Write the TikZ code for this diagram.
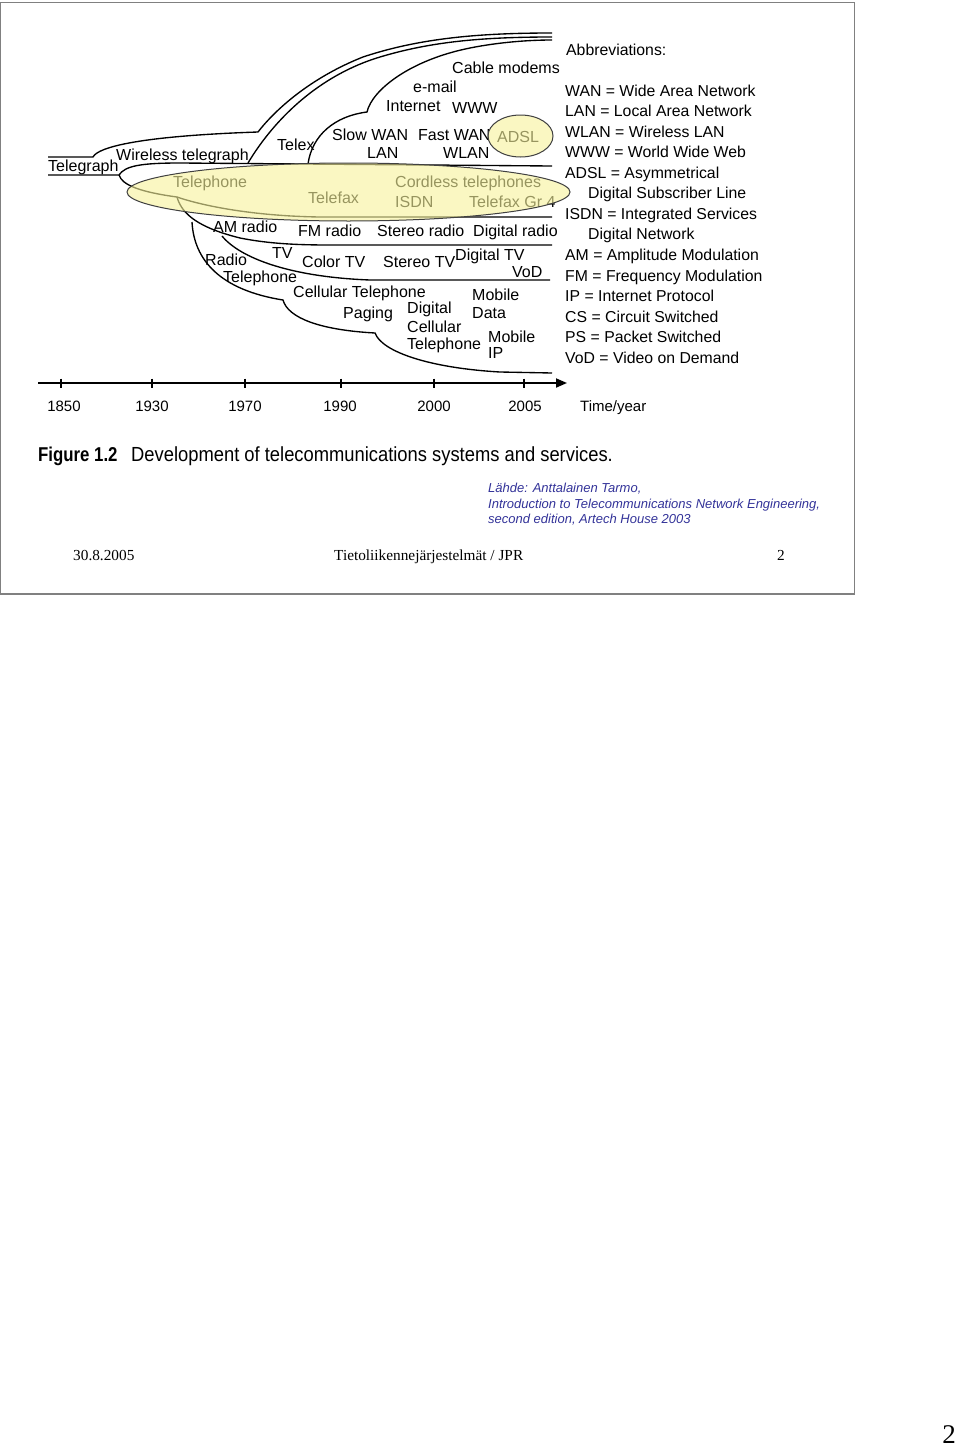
\documentclass[tikz,border=0pt]{standalone}
\usepackage{graphicx}
\usepackage{fontspec}
\setmainfont{Liberation Sans}
\newfontfamily\seriffont{Liberation Serif}
\usetikzlibrary{arrows.meta}
\definecolor{srcblue}{RGB}{51,51,153}
\definecolor{ovl}{RGB}{247,243,156}
\definecolor{framegray}{RGB}{128,128,128}
\begin{document}
\begin{tikzpicture}[x=1pt,y=-1pt,
  lbl/.style={anchor=base west,inner sep=0pt,font=\fontsize{16}{19}\selectfont},
  abbr/.style={anchor=base west,inner sep=0pt,font=\fontsize{15.8}{19}\selectfont},
  yearlbl/.style={anchor=base,inner sep=0pt,font=\fontsize{15}{18}\selectfont},
  src/.style={anchor=base west,inner sep=0pt,font=\fontsize{13}{15}\selectfont\itshape,text=srcblue},
  foot/.style={anchor=base west,inner sep=0pt,font=\seriffont\fontsize{15.3}{18}\selectfont},
  curve/.style={line width=1.35pt,black},
  hilite/.style={fill=ovl,fill opacity=0.61},
  hiliteedge/.style={draw=black!75,line width=1pt}]
\useasboundingbox (0,0) rectangle (960,1448);
\fill[white] (0,0) rectangle (960,1448);
\draw[framegray,line width=1.3pt] (0.7,2.6) rectangle (854.5,594);

% ---- branch curves ----
\draw[curve] (48,157) -- (93,157) .. controls (98,147) and (140,136) .. (258,132)
  .. controls (275,110) and (310,78) .. (363,57) .. controls (420,38) and (480,33) .. (552,33);
\draw[curve] (248,163) .. controls (275,118) and (320,75) .. (380,57)
  .. controls (430,42) and (480,37) .. (552,37);
\draw[curve] (308,164) .. controls (312,135) and (335,116) .. (367,112)
  .. controls (372,90) and (410,60) .. (470,48) .. controls (500,42) and (530,40) .. (552,40);
\draw[curve] (48,175) -- (119,175) .. controls (125,166) and (140,163) .. (180,163) -- (552,166);
\draw[curve] (119,175) .. controls (122,185) and (140,192) .. (177,197);
\draw[curve] (177,197) .. controls (200,205) and (250,216) .. (320,217) -- (552,217);
\draw[curve] (177,197) .. controls (182,215) and (200,228) .. (240,238)
  .. controls (270,244) and (300,245) .. (330,245) -- (552,245);
\draw[curve] (222,236) .. controls (240,258) and (290,277) .. (370,280) -- (550,280);
\draw[curve] (192,222) .. controls (194,260) and (220,290) .. (283,300)
  .. controls (288,318) and (320,330) .. (375,333)
  .. controls (382,352) and (430,368) .. (500,372) -- (552,373);

% ---- diagram labels ----
\node[lbl] (telegraph) at (48,171.5) {Telegraph};
\node[lbl] (wireless) at (116,160.5) {Wireless telegraph};
\node[lbl] (telex) at (277,150.5) {Telex};
\node[lbl] (slowwan) at (332,140.5) {Slow WAN};
\node[lbl] (fastwan) at (418,140.5) {Fast WAN};
\node[lbl] (adsl) at (497,142) {ADSL};
\node[lbl] (lan) at (367,158.5) {LAN};
\node[lbl] (wlan) at (443,158.5) {WLAN};
\node[lbl] (internet) at (386,111.5) {Internet};
\node[lbl] (www) at (452,113.5) {WWW};
\node[lbl] (email) at (413,92.5) {e-mail};
\node[lbl] (cable) at (452,73.5) {Cable modems};
\node[lbl] (telephone) at (173,187.5) {Telephone};
\node[lbl] (telefax) at (308,203.5) {Telefax};
\node[lbl] (cordless) at (395,187) {Cordless telephones};
\node[lbl] (isdn) at (395,207.5) {ISDN};
\node[lbl] (gr4) at (469,207.5) {Telefax Gr 4};
\node[lbl] (am) at (213,232.5) {AM radio};
\node[lbl] (fm) at (298,236.5) {FM radio};
\node[lbl] (stereor) at (377,236.5) {Stereo radio};
\node[lbl] (digr) at (473,236.5) {Digital radio};
\node[lbl] (tv) at (272,258.5) {TV};
\node[lbl] (radio) at (205,265) {Radio};
\node[lbl] (colortv) at (302,267) {Color TV};
\node[lbl] (stereotv) at (383,267) {Stereo TV};
\node[lbl] (digtv) at (455,260.5) {Digital TV};
\node[lbl] (vod) at (512,277) {VoD};
\node[lbl] (rtel) at (223,282) {Telephone};
\node[lbl] (cell) at (293,297) {Cellular Telephone};
\node[lbl] (mob1) at (472,300.5) {Mobile};
\node[lbl] (paging) at (343,318.5) {Paging};
\node[lbl] (dig) at (407,313.5) {Digital};
\node[lbl] (data) at (472,318.5) {Data};
\node[lbl] (cellu) at (407,332) {Cellular};
\node[lbl] (dtel) at (407,349) {Telephone};
\node[lbl] (mob2) at (488,342.5) {Mobile};
\node[lbl] (ip) at (488,358.5) {IP};

% ---- highlight ellipses ----
\fill[hilite] (348.5,192) ellipse [x radius=221.5pt, y radius=29pt];
\draw[hiliteedge] (348.5,192) ellipse [x radius=221.5pt, y radius=29pt];
\fill[hilite] (520.5,136) ellipse [x radius=32.5pt, y radius=21pt];
\draw[hiliteedge] (520.5,136) ellipse [x radius=32.5pt, y radius=21pt];

% ---- abbreviations ----
\node[abbr] (ab0) at (566,55) {Abbreviations:};
\node[abbr] (ab1) at (565,96) {WAN = Wide Area Network};
\node[abbr] (ab2) at (565,116.6) {LAN = Local Area Network};
\node[abbr] (ab3) at (565,137.1) {WLAN = Wireless LAN};
\node[abbr] (ab4) at (565,157.7) {WWW = World Wide Web};
\node[abbr] (ab5) at (565,178.2) {ADSL = Asymmetrical};
\node[abbr] (ab6) at (588,198.8) {Digital Subscriber Line};
\node[abbr] (ab7) at (565,219.3) {ISDN = Integrated Services};
\node[abbr] (ab8) at (588,239.9) {Digital Network};
\node[abbr] (ab9) at (565,260.4) {AM = Amplitude Modulation};
\node[abbr] (ab10) at (565,281) {FM = Frequency Modulation};
\node[abbr] (ab11) at (565,301.5) {IP = Internet Protocol};
\node[abbr] (ab12) at (565,322) {CS = Circuit Switched};
\node[abbr] (ab13) at (565,342.6) {PS = Packet Switched};
\node[abbr] (ab14) at (565,363.2) {VoD = Video on Demand};

% ---- time axis ----
\coordinate (axs) at (38,383);
\coordinate (axe) at (567,383);
\draw[line width=1.8pt,-{Triangle[length=11pt,width=9pt]}] (axs) -- (axe);
\foreach \x in {61,152,245,341,434,524} \draw[line width=1.3pt] (\x,378.5) -- (\x,387.5);
\node[yearlbl] (y1850) at (64,411) {1850};
\node[yearlbl] (y1930) at (152,411) {1930};
\node[yearlbl] (y1970) at (245,411) {1970};
\node[yearlbl] (y1990) at (340,411) {1990};
\node[yearlbl] (y2000) at (434,411) {2000};
\node[yearlbl] (y2005) at (525,411) {2005};
\node[anchor=base west,inner sep=0pt,font=\fontsize{15}{18}\selectfont] (timeyear) at (580,411) {Time/year};

% ---- caption ----
\node[anchor=base west,inner sep=0pt,font=\fontsize{20}{23}\selectfont\bfseries] (fig) at (38,461) {\scalebox{0.84}[1]{Figure 1.2}};
\node[anchor=base west,inner sep=0pt,font=\fontsize{20.4}{23}\selectfont] (capt) at (131,461) {\scalebox{0.9}[1]{Development of telecommunications systems and services.}};

% ---- source ----
\node[src] (src1) at (488,492.5) {Lähde: Anttalainen Tarmo,};
\node[src] (src2) at (488,508.5) {Introduction to Telecommunications Network Engineering,};
\node[src] (src3) at (488,523.5) {second edition, Artech House 2003};

% ---- footer ----
\node[foot] (date) at (73,560) {30.8.2005};
\node[foot] (title) at (334,560) {Tietoliikennejärjestelmät / JPR};
\node[foot] (pnum) at (777,560) {2};
\node[anchor=base east,inner sep=0pt,font=\seriffont\fontsize{27}{32}\selectfont] (page) at (956,1443) {2};
\end{tikzpicture}
\end{document}
